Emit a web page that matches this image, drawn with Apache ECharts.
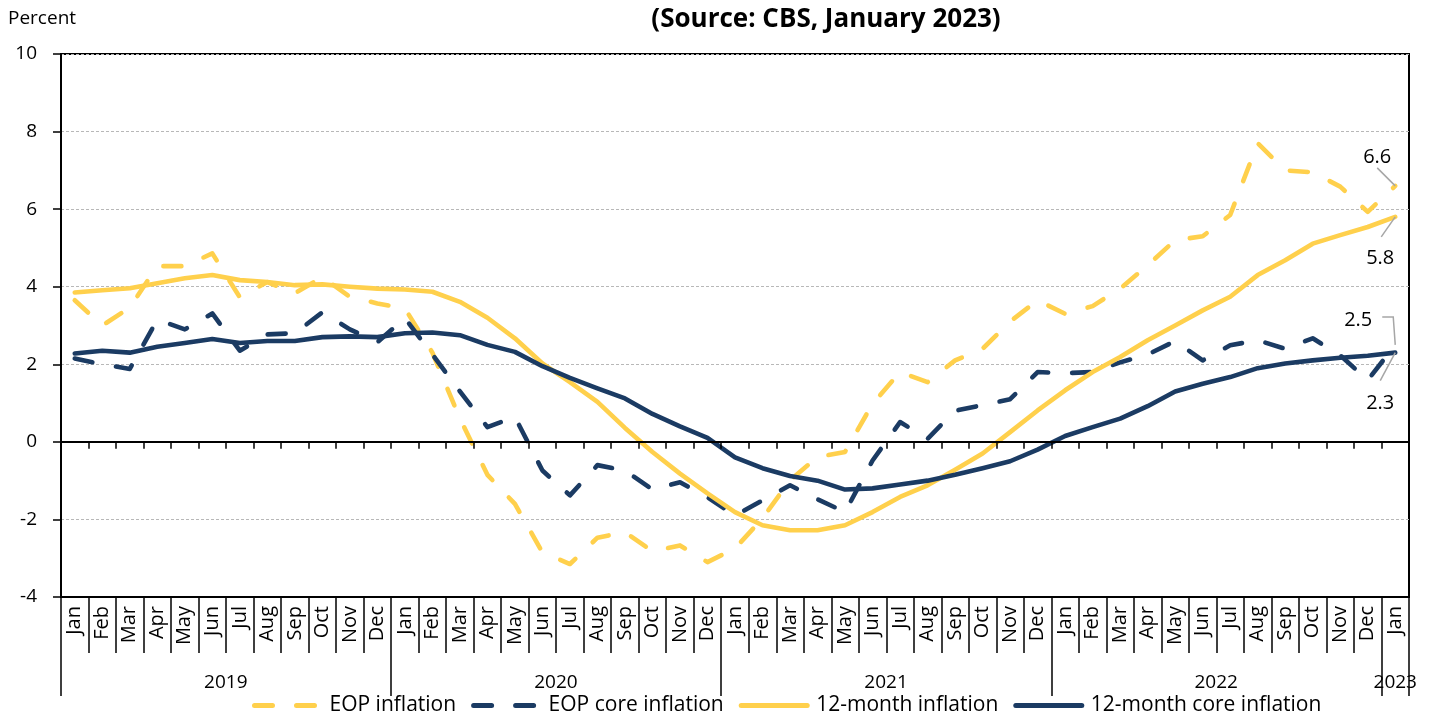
<!DOCTYPE html>
<html>
<head>
<meta charset="utf-8">
<script src="https://cdn.jsdelivr.net/npm/echarts@6/dist/echarts.min.js"></script>
<style>
html,body{margin:0;padding:0;background:#fff;}
#chart{width:1432px;height:717px;}
</style>
</head>
<body>
<div id="chart"></div>
<script>
// ---- data ----
const monthNames = ['Jan','Feb','Mar','Apr','May','Jun','Jul','Aug','Sep','Oct','Nov','Dec'];
const years = ['2019','2020','2021','2022'];
const periods = [];
years.forEach(y => monthNames.forEach(m => periods.push(y + '-' + m)));
periods.push('2023-Jan');

const eopInflation = [
  3.65, 3.0, 3.46, 4.53, 4.53, 4.86, 3.73, 4.12, 3.83, 4.25, 3.74, 3.57,
  3.44, 2.3, 0.6, -0.85, -1.6, -2.85, -3.15, -2.47, -2.33, -2.82, -2.67, -3.1,
  -2.75, -1.97, -0.99, -0.39, -0.26, 0.98, 1.8, 1.54, 2.1, 2.4, 3.1, 3.65,
  3.3, 3.5, 3.95, 4.55, 5.2, 5.3, 5.85, 7.7, 7.0, 6.95, 6.58, 5.93,
  6.6
];
const eopCoreInflation = [
  2.15, 2.0, 1.88, 3.15, 2.9, 3.31, 2.35, 2.77, 2.8, 3.34, 2.9, 2.57,
  3.19, 2.25, 1.3, 0.38, 0.64, -0.74, -1.38, -0.6, -0.74, -1.23, -1.04, -1.43,
  -1.9, -1.51, -1.12, -1.48, -1.81, -0.48, 0.51, 0.08, 0.8, 0.95, 1.1, 1.8,
  1.77, 1.8, 2.05, 2.25, 2.6, 2.1, 2.49, 2.62, 2.4, 2.67, 2.23, 1.59,
  2.5
];
const yoyInflation = [
  3.85, 3.91, 3.96, 4.09, 4.22, 4.3, 4.17, 4.12, 4.04, 4.06, 4.0, 3.95,
  3.93, 3.87, 3.61, 3.2, 2.67, 2.02, 1.54, 1.03, 0.36, -0.26, -0.82, -1.33,
  -1.81, -2.15, -2.28, -2.28, -2.15, -1.81, -1.42, -1.12, -0.72, -0.3, 0.25, 0.81,
  1.33, 1.8, 2.19, 2.62, 3.0, 3.39, 3.74, 4.3, 4.68, 5.11, 5.33, 5.54,
  5.8
];
const yoyCoreInflation = [
  2.28, 2.35, 2.3, 2.45, 2.55, 2.65, 2.55, 2.6, 2.6, 2.7, 2.72, 2.7,
  2.8, 2.82, 2.75, 2.5, 2.32, 1.95, 1.65, 1.38, 1.12, 0.72, 0.4, 0.1,
  -0.4, -0.68, -0.88, -1.0, -1.23, -1.2, -1.1, -1.0, -0.85, -0.68, -0.5, -0.2,
  0.15, 0.38, 0.6, 0.92, 1.3, 1.5, 1.67, 1.9, 2.02, 2.1, 2.17, 2.22,
  2.3
];
const seriesNames = ['EOP inflation', 'EOP core inflation', '12-month inflation', '12-month core inflation'];
const yTicks = { min: -4, max: 10, interval: 2 };
const endLabels = ['6.6', '2.5', '5.8', '2.3'];

// ---- style ----
const YEL = '#FFD04C';
const NAVY = '#1B3B63';
const FONT = 'Open Sans';
const DASH = [18, 24];

const chart = echarts.init(document.getElementById('chart'), null, { renderer: 'canvas' });

function lineSeries(name, data, color, dashed) {
  return {
    name: name,
    type: 'line',
    data: data,
    xAxisIndex: 0,
    yAxisIndex: 0,
    symbol: 'none',
    smooth: false,
    animation: false,
    lineStyle: { color: color, width: 4.6, type: dashed ? DASH : 'solid', cap: 'round', join: 'round' },
    itemStyle: { color: color },
    z: 3
  };
}

const option = {
  animation: false,
  backgroundColor: '#fff',
  title: {
    text: '(Source: CBS, January 2023)',
    left: 821, top: 2, textAlign: 'center',
    textStyle: { fontFamily: FONT, fontWeight: 'bold', fontSize: 26, color: '#000' }
  },
  grid: {
    left: 61, right: 23, top: 54, bottom: 120,
    show: true, borderColor: '#000', borderWidth: 2, backgroundColor: 'transparent'
  },
  legend: {
    left: 247, top: 690,
    itemWidth: 66, itemHeight: 14, itemGap: 15,
    itemStyle: { opacity: 0 },
    lineStyle: { width: 5, cap: 'round' },
    textStyle: { fontFamily: FONT, fontSize: 21, color: '#000', padding: [0, 0, 0, 4] },
    data: seriesNames
  },
  xAxis: [
    {
      type: 'category', data: periods, boundaryGap: true,
      axisLine: { onZero: true, lineStyle: { color: '#000', width: 2 } },
      axisTick: { show: true, length: 7, interval: 0, lineStyle: { color: '#000', width: 1.5 } },
      axisLabel: { show: false },
      splitLine: { show: false },
      z: 4
    },
    {
      type: 'category', data: periods, boundaryGap: true, position: 'bottom',
      axisLine: { onZero: false, lineStyle: { color: '#000', width: 2 } },
      axisTick: { show: true, length: 56, interval: 0, lineStyle: { color: '#000', width: 1.5 } },
      axisLabel: {
        interval: 0, rotate: 90, margin: 9,
        fontFamily: FONT, fontSize: 20, color: '#000',
        formatter: v => v.split('-')[1]
      },
      splitLine: { show: false }
    },
    {
      type: 'category', data: periods, boundaryGap: true, position: 'bottom',
      axisLine: { show: false, onZero: false },
      axisTick: { show: true, length: 99, interval: (i) => i % 12 === 0, lineStyle: { color: '#000', width: 1.5 } },
      axisLabel: {
        interval: 0, margin: 76,
        formatter: (v, i) => {
          const y = v.split('-')[0];
          if (i === periods.length - 1) return '{e|' + y + '}';
          return (i % 12 === 5) ? '{m|' + y + '}' : '';
        },
        rich: {
          m: { fontFamily: FONT, fontSize: 19, color: '#000', padding: [0, 0, 0, 27] },
          e: { fontFamily: FONT, fontSize: 19, color: '#000' }
        }
      },
      splitLine: { show: false }
    }
  ],
  yAxis: {
    type: 'value', min: yTicks.min, max: yTicks.max, interval: yTicks.interval,
    name: 'Percent', nameLocation: 'end', nameGap: 26,
    nameTextStyle: { fontFamily: FONT, fontSize: 19, color: '#000', align: 'left', padding: [0, 0, 0, -53] },
    axisLine: { show: true, lineStyle: { color: '#000', width: 2 } },
    axisTick: { show: true, length: 8, lineStyle: { color: '#000', width: 1.5 } },
    axisLabel: { margin: 24, fontFamily: FONT, fontSize: 19, color: '#000' },
    splitLine: { show: true, lineStyle: { color: '#b8b8b8', width: 1, type: [3, 2] } }
  },
  series: [
    lineSeries(seriesNames[0], eopInflation, YEL, true),
    lineSeries(seriesNames[1], eopCoreInflation, NAVY, true),
    lineSeries(seriesNames[2], yoyInflation, YEL, false),
    lineSeries(seriesNames[3], yoyCoreInflation, NAVY, false)
  ]
};
chart.setOption(option);

// ---- end-point annotations positioned from the library's own scales ----
const last = periods.length - 1;
const allData = [eopInflation, eopCoreInflation, yoyInflation, yoyCoreInflation];
const annot = [
  { s: 0, text: [-18, -29], line: [[-18, -18], [0, 0]] },
  { s: 1, text: [-37, -25], line: [[-13, -28], [-2, -28], [0, 0]] },
  { s: 2, text: [-15, 41], line: [[-14, 20], [0, 0]] },
  { s: 3, text: [-15, 51], line: [[-15, 28], [0, 0]] }
];
const graphics = [];
annot.forEach(a => {
  const p = chart.convertToPixel({ xAxisIndex: 0, yAxisIndex: 0 }, [last, allData[a.s][last]]);
  graphics.push({
    type: 'polyline', z: 100, silent: true,
    shape: { points: a.line.map(o => [p[0] + o[0], p[1] + o[1]]) },
    style: { stroke: '#a6a6a6', lineWidth: 1.5, fill: null }
  });
  graphics.push({
    type: 'text', z: 101, silent: true,
    x: p[0] + a.text[0], y: p[1] + a.text[1],
    style: { text: endLabels[a.s], fontFamily: FONT, fontSize: 20, fill: '#000', align: 'center', verticalAlign: 'middle' }
  });
});
chart.setOption({ graphic: graphics });
</script>
</body>
</html>
